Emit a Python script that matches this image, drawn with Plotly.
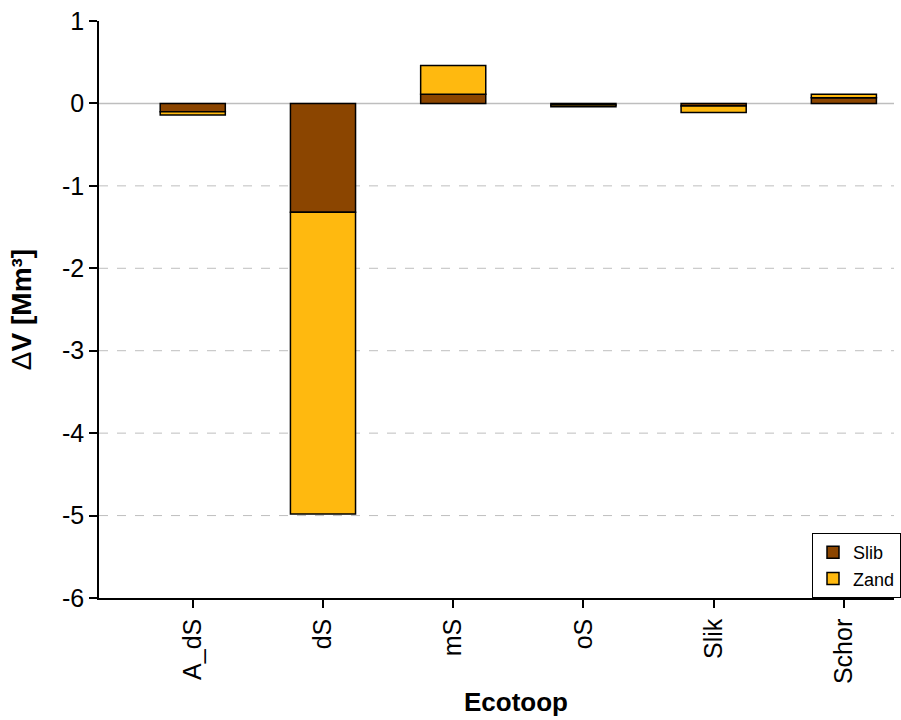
import plotly.graph_objects as go

# Sediment volume change per ecotope, split into mud (Slib) and sand (Zand)
ecotopes = ["A_dS", "dS", "mS", "oS", "Slik", "Schor"]
slib = [-0.10, -1.32, 0.11, -0.02, -0.03, 0.07]
zand = [-0.04, -3.66, 0.35, -0.02, -0.08, 0.04]
y_ticks = [1, 0, -1, -2, -3, -4, -5, -6]

font_family = "Liberation Sans, Arial, sans-serif"

fig = go.Figure()
fig.add_trace(go.Bar(
    x=ecotopes, y=slib, name="Slib", width=0.5,
    marker=dict(color="#8B4500", line=dict(color="black", width=1.5)),
))
fig.add_trace(go.Bar(
    x=ecotopes, y=zand, name="Zand", width=0.5,
    marker=dict(color="#FFB90F", line=dict(color="black", width=1.5)),
))

# dashed reference lines at the negative whole numbers
for v in y_ticks:
    if -6 < v < 0:
        fig.add_shape(type="line", xref="paper", x0=0, x1=1, yref="y", y0=v, y1=v,
                      line=dict(color="#BEBEBE", width=1, dash="dash"), layer="below")
fig.add_shape(type="line", xref="paper", x0=0, x1=1, yref="y", y0=0, y1=0,
              line=dict(color="#BEBEBE", width=1.5), layer="below")

# x-axis title, centred on the full panel width
fig.add_annotation(
    text="<b>Ecotoop</b>", xref="paper", yref="paper", x=0.524, y=-0.181,
    xanchor="center", yanchor="middle", showarrow=False,
    font=dict(size=26, family=font_family, color="black"),
)

fig.update_layout(
    barmode="relative",
    width=901, height=720,
    margin=dict(l=99, r=0, t=21, b=122),
    paper_bgcolor="white", plot_bgcolor="white",
    font=dict(family=font_family, color="black", size=18),
    showlegend=True,
    legend=dict(
        x=0.897, xanchor="left", y=0, yanchor="bottom",
        bordercolor="black", borderwidth=1, bgcolor="white",
        font=dict(size=18, family=font_family),
        traceorder="normal", itemwidth=30,
    ),
    xaxis=dict(
        range=[-0.72, 5.385],
        showline=True, linecolor="black", linewidth=1.5,
        ticks="outside", ticklen=8, tickcolor="black", tickwidth=1.5,
        ticklabelstandoff=1,
        tickangle=-90, showgrid=False, zeroline=False,
        tickfont=dict(size=25),
    ),
    yaxis=dict(
        range=[-6, 1],
        tickvals=y_ticks, ticktext=[str(v) for v in y_ticks],
        showline=True, linecolor="black", linewidth=1.5,
        ticks="outside", ticklen=8, tickcolor="black", tickwidth=1.5,
        showgrid=False, zeroline=False,
        tickfont=dict(size=25),
        title=dict(text="Δ<b>V [Mm³]</b>", font=dict(size=28), standoff=22),
    ),
)

fig.write_html("out.html")
